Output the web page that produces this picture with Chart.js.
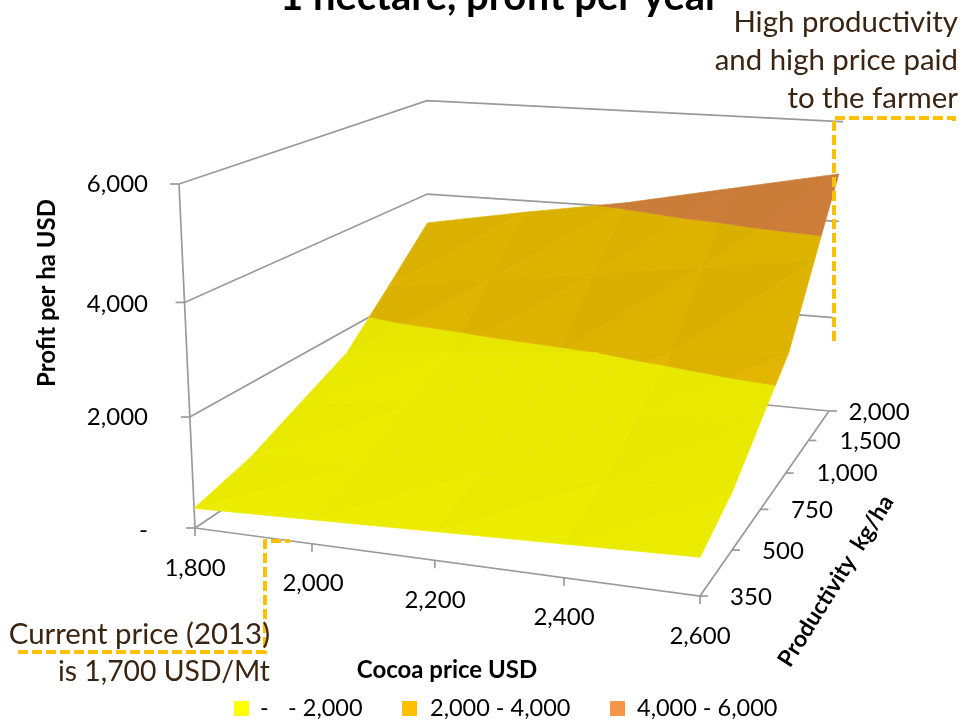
<!DOCTYPE html>
<html>
<head>
<meta charset="utf-8">
<style>
  html, body { margin: 0; padding: 0; background: #fff; }
  canvas { display: block; }
</style>
<script src="https://cdn.jsdelivr.net/npm/chart.js@4"></script>
</head>
<body>
<canvas id="surface" width="963" height="720"></canvas>
<script>
// Cocoa farm profit per hectare by world price and productivity.
const prices = [1800, 2000, 2200, 2400, 2600];
const productivity = [350, 500, 750, 1000, 1500, 2000];
const profit350 = [360, 430, 500, 570, 640];
const profit500 = [630, 730, 830, 930, 1030];
const profit750 = [1080, 1230, 1380, 1530, 1680];
const profit1000 = [1530, 1730, 1930, 2130, 2330];
const profit1500 = [2430, 2730, 3030, 3330, 3630];
const profit2000 = [3370, 3750, 4095, 4530, 4960];
const profitRows = [profit350, profit500, profit750, profit1000, profit1500, profit2000];
const profitTicks = [0, 2000, 4000, 6000];
const profitMax = 6000;
const bandEdges = [0, 2000, 4000, 6000];
const bandLabels = ['- 2,000', '2,000 - 4,000', '4,000 - 6,000'];
const bandSwatches = ['#ffff00', '#ffc000', '#f79646'];
const bandFaces = [[238, 238, 0], [230, 186, 0], [212, 130, 60]];
const bandFarTone = [0.99, 0.98, 0.985];

// Corners of the view box: floor and ceiling, each [front-left, front-right, back-right, back-left].
const floorQuad = [[195, 528], [700, 596], [829, 411], [428, 372]];
const ceilQuad = [[179, 184], [701, 217], [841, 121.7], [427, 100.7]];

function planeMap(q) {
  const [A, B, C, D] = q;
  const rx = B[0] + D[0] - C[0] - A[0], ry = B[1] + D[1] - C[1] - A[1];
  const ax = C[0] - B[0], ay = C[1] - B[1], bx = C[0] - D[0], by = C[1] - D[1];
  const det = ax * by - bx * ay;
  const g = (rx * by - bx * ry) / det, h = (ax * ry - rx * ay) / det;
  return (u, v) => {
    const w = 1 + g * u + h * v;
    return [
      (A[0] + u * (B[0] * (1 + g) - A[0]) + v * (D[0] * (1 + h) - A[0])) / w,
      (A[1] + u * (B[1] * (1 + g) - A[1]) + v * (D[1] * (1 + h) - A[1])) / w
    ];
  };
}
const floorMap = planeMap(floorQuad), ceilMap = planeMap(ceilQuad);

// u and v are fractional positions along the two category axes, z is profit in USD.
function project(u, v, z) {
  const f = floorMap(u, v), c = ceilMap(u, v);
  const w = z / profitMax;
  const t = w / (1.05 - 0.05 * w);
  return { x: f[0] + (c[0] - f[0]) * t, y: f[1] + (c[1] - f[1]) * t };
}

const nu = prices.length - 1, nv = productivity.length - 1;
const datasets = [];
function addLine(points, color, width, dash) {
  datasets.push({
    data: points, showLine: true, pointRadius: 0, borderColor: color, borderWidth: width,
    borderDash: dash || [], fill: false, tension: 0, borderCapStyle: 'butt', clip: false
  });
}
function addFace(points, color) {
  datasets.push({
    data: points.concat([points[0]]), showLine: true, pointRadius: 0, tension: 0, clip: false,
    borderColor: color, borderWidth: 0.7, backgroundColor: color, fill: 'shape'
  });
}

// Walls and floor of the box.
const GRID = '#9a9a9a', GRID_W = 1.7;
profitTicks.forEach(z => {
  addLine([project(0, 0, z), project(0, 1, z), project(1, 1, z)], GRID, GRID_W);
  const p = project(0, 0, z);
  addLine([{ x: p.x - 9, y: p.y }, p], GRID, GRID_W);
});
[4000, 6000].forEach(z => {
  const p = project(1, 1, z);
  addLine([p, { x: p.x + 2, y: p.y }], GRID, GRID_W);
});
addLine([project(0, 0, 0), project(0, 0, profitMax)], GRID, GRID_W);
addLine([project(0, 0, 0), project(1, 0, 0), project(1, 1, 0)], GRID, GRID_W);
prices.forEach((_, i) => {
  const p = project(i / nu, 0, 0);
  addLine([p, { x: p.x, y: p.y + 8 }], GRID, GRID_W);
});
productivity.forEach((_, j) => {
  const p = project(1, j / nv, 0);
  addLine([p, { x: p.x + 8, y: p.y }], GRID, GRID_W);
});

// Keep the part of a triangle that falls inside one profit band.
function clipBand(tri, lo, hi) {
  const cut = (poly, keep, level) => {
    const out = [];
    poly.forEach((a, k) => {
      const b = poly[(k + 1) % poly.length];
      const ka = keep(a[2]), kb = keep(b[2]);
      if (ka) out.push(a);
      if (ka !== kb) {
        const t = (level - a[2]) / (b[2] - a[2]);
        out.push([a[0] + (b[0] - a[0]) * t, a[1] + (b[1] - a[1]) * t, level]);
      }
    });
    return out;
  };
  return cut(cut(tri, z => z >= lo, lo), z => z <= hi, hi);
}

// Surface facets, painted from the back edge forward. Steeper facets and the
// far triangle of each cell take a slightly darker tone.
for (let j = nv - 1; j >= 0; j--) {
  for (let i = 0; i < nu; i++) {
    const corner = (ci, cj) => [ci / nu, cj / nv, profitRows[cj][ci]];
    const rise = ci => (profitRows[j + 1][ci] - profitRows[j][ci]) * nv / profitMax;
    const tris = [
      { pts: [corner(i, j), corner(i + 1, j + 1), corner(i, j + 1)], f: 1 - 0.035 * rise(i), far: true },
      { pts: [corner(i, j), corner(i + 1, j), corner(i + 1, j + 1)], f: 1 - 0.035 * rise(i + 1), far: false }
    ];
    tris.forEach(tri => {
      bandFaces.forEach((rgb, b) => {
        const poly = clipBand(tri.pts, bandEdges[b], bandEdges[b + 1]);
        if (poly.length < 3) return;
        const tone = tri.f * (tri.far ? bandFarTone[b] : 1);
        const col = `rgb(${rgb.map(c => Math.round(c * tone)).join(',')})`;
        addFace(poly.map(p => project(p[0], p[1], p[2])), col);
      });
    });
  }
}

// Dashed call-out guides.
const CALLOUT = '#ffc000';
addLine([{ x: 954, y: 121 }, { x: 954, y: 118 }, { x: 834, y: 118 }, { x: 834, y: 341 }], CALLOUT, 4, [10, 4]);
addLine([{ x: 18, y: 652 }, { x: 265, y: 652 }, { x: 265, y: 541 }, { x: 290, y: 541 }], CALLOUT, 4, [10, 4]);

datasets.forEach((d, k) => { d.order = -k; });

const FACE = 'Lato, "Open Sans", sans-serif';
const INK = '#000000', NOTE = '#3a2412';
const fmt = n => n.toLocaleString('en-US');

const chartText = {
  id: 'chartText',
  afterDraw(chart) {
    const ctx = chart.ctx;
    const put = (s, x, y, font, color, align, rot, fit) => {
      ctx.save();
      ctx.translate(x, y);
      if (rot) ctx.rotate(rot);
      ctx.font = font; ctx.fillStyle = color; ctx.textAlign = align || 'center'; ctx.textBaseline = 'middle';
      if (fit) ctx.fillText(s, 0, 0, fit); else ctx.fillText(s, 0, 0);
      ctx.restore();
    };
    const tick = `24px ${FACE}`;
    // Title runs off the top of the page.
    put('1 hectare, profit per year', 500, -3, `bold 40px ${FACE}`, INK);

    const zY = [530, 417, 304, 184];
    profitTicks.forEach((z, k) => put(z === 0 ? '-' : fmt(z), 148, zY[k], tick, INK, 'right'));
    const px = [195, 313, 435, 564, 700], py = [568, 583, 600, 617, 636];
    prices.forEach((p, k) => put(fmt(p), px[k], py[k], tick, INK));
    const qx = [751, 783, 812, 847, 870, 879], qy = [597, 551, 510, 473, 441, 412];
    productivity.forEach((p, k) => put(fmt(p), qx[k], qy[k], tick, INK));

    put('Profit per ha USD', 47, 293, `bold 24px ${FACE}`, INK, 'center', -Math.PI / 2);
    put('Cocoa price USD', 447, 670, `bold 24px ${FACE}`, INK);
    put('Productivity  kg/ha', 836, 581, `bold 23px ${FACE}`, INK, 'center', -58 * Math.PI / 180);

    const note = `29.4px ${FACE}`;
    put('High productivity', 958, 23, note, NOTE, 'right');
    put('and high price paid', 958, 61, note, NOTE, 'right');
    put('to the farmer', 958, 99, note, NOTE, 'right');
    put('Current price (2013)', 270, 635, note, NOTE, 'right');
    put('is 1,700 USD/Mt', 270, 672, note, NOTE, 'right', 0, 212);

    // Legend of profit bands.
    const sx = [234, 402, 610], tx = [288, 430, 637];
    const legendFont = `23.5px ${FACE}`;
    bandSwatches.forEach((c, k) => {
      ctx.fillStyle = c;
      ctx.fillRect(sx[k], 701, 15, 15);
      put(bandLabels[k], tx[k], 708, legendFont, INK, 'left');
    });
    put('-', 260, 708, legendFont, INK, 'left');
  }
};

new Chart(document.getElementById('surface'), {
  type: 'scatter',
  data: { datasets },
  plugins: [chartText],
  options: {
    responsive: false,
    animation: false,
    layout: { padding: 0 },
    plugins: { legend: { display: false }, tooltip: { enabled: false } },
    scales: {
      x: { type: 'linear', min: 0, max: 963, display: false },
      y: { type: 'linear', min: 0, max: 720, reverse: true, display: false }
    }
  }
});
</script>
</body>
</html>
